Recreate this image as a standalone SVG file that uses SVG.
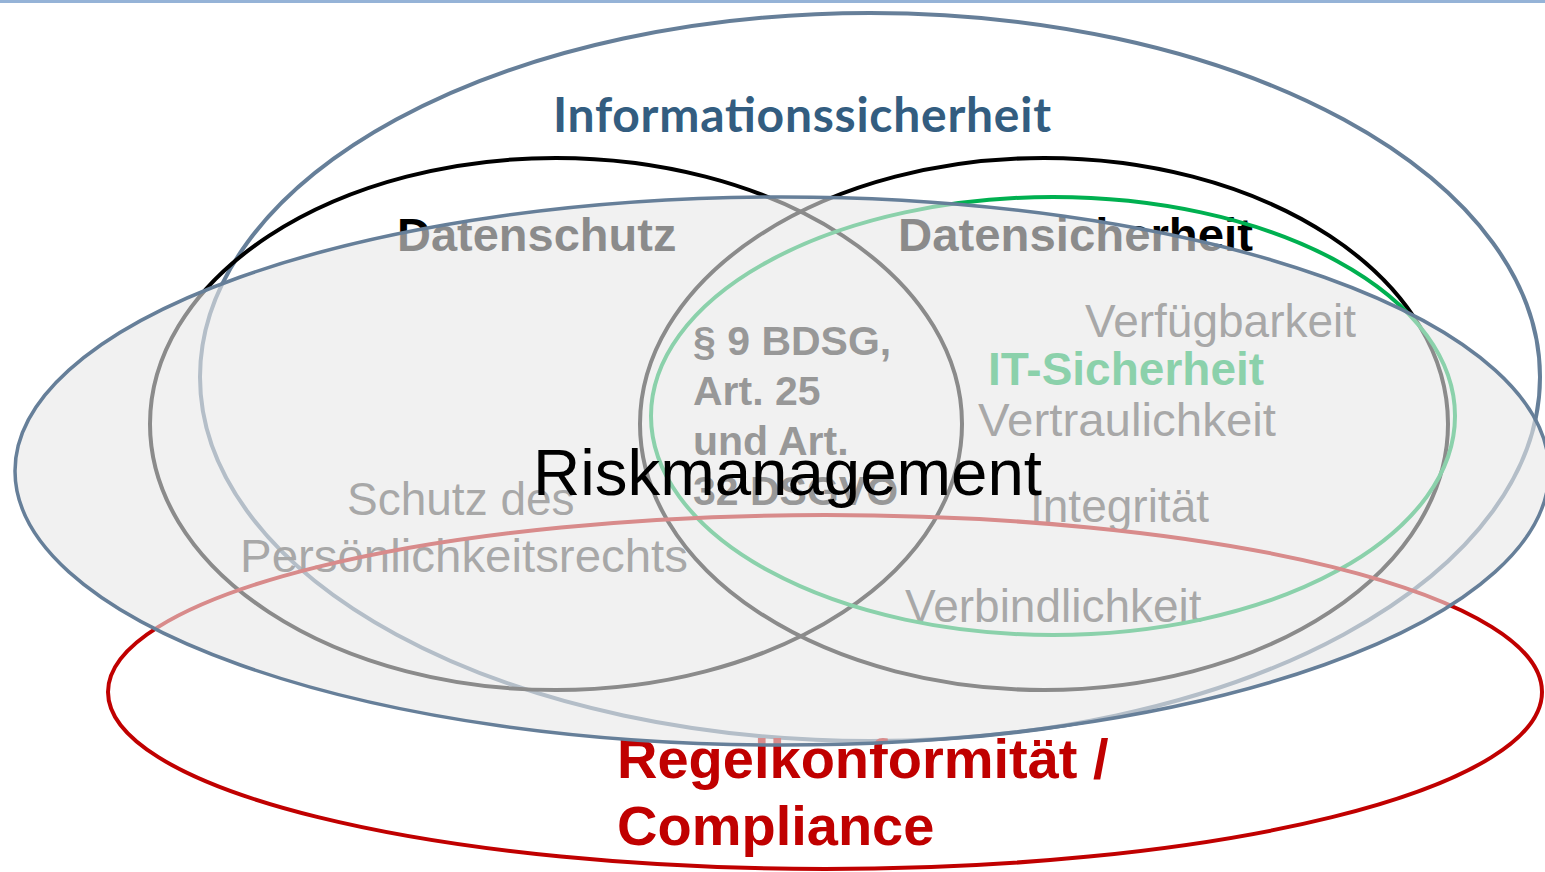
<svg xmlns="http://www.w3.org/2000/svg" width="1545" height="872" viewBox="0 0 1545 872">
<style>
.ring{fill:none;stroke-width:4}
.blk{stroke:#000}
.grey{font-family:"Liberation Sans",Arial,sans-serif;font-size:46px;fill:#4a4a4a}
.bold{font-family:"Liberation Sans",Arial,sans-serif;font-weight:bold}
</style>
<rect x="0" y="0" width="1545" height="872" fill="#fff"/>
<rect x="0" y="0" width="1545" height="3" fill="#95b3d7"/>
<g id="informationssicherheit">
<ellipse class="ring" cx="870" cy="377" rx="670" ry="364" stroke="#667f99"/>
<text x="553" y="132" font-family="Lato,'Open Sans',sans-serif" font-weight="bold" font-size="48" fill="#335d80" textLength="498" lengthAdjust="spacing">Informationssicherheit</text>
</g>
<g id="datenschutz">
<ellipse class="ring blk" cx="556" cy="424" rx="406" ry="266"/>
<text class="bold" x="397" y="251" font-size="47" fill="#000">Datenschutz</text>
</g>
<g id="datensicherheit">
<ellipse class="ring blk" cx="1044" cy="424" rx="404" ry="266"/>
<text class="bold" x="898" y="251" font-size="47" fill="#000" textLength="355" lengthAdjust="spacingAndGlyphs">Datensicherheit</text>
<text class="grey" x="1085" y="337">Verfügbarkeit</text>
<text class="grey" x="978" y="436" textLength="298" lengthAdjust="spacingAndGlyphs">Vertraulichkeit</text>
<text class="grey" x="1030" y="522">Integrität</text>
<text class="grey" x="905" y="622">Verbindlichkeit</text>
</g>
<g id="it-sicherheit">
<ellipse class="ring" cx="1053" cy="416" rx="402" ry="219" stroke="#00b050"/>
<text class="bold" x="988" y="385" font-size="46" fill="#00b050">IT-Sicherheit</text>
</g>
<g id="persoenlichkeit">
<text class="grey" x="347" y="515">Schutz des</text>
<text class="grey" x="240" y="572" textLength="448" lengthAdjust="spacingAndGlyphs">Persönlichkeitsrechts</text>
</g>
<g id="bdsg" class="bold" font-size="41" fill="#222">
<text x="693" y="355">§ 9 BDSG,</text>
<text x="693" y="405">Art. 25</text>
<text x="693" y="455">und Art.</text>
<text x="693" y="505">32 DSGVO</text>
</g>
<g id="compliance">
<ellipse class="ring" cx="825" cy="692" rx="717" ry="177" stroke="#c00000"/>
<text class="bold" x="617" y="778" font-size="56" fill="#c00000">Regelkonformität /</text>
<text class="bold" x="617" y="845" font-size="56" fill="#c00000">Compliance</text>
</g>
<g id="riskmanagement">
<ellipse cx="782" cy="471" rx="767" ry="274" fill="#e8e8e8" fill-opacity="0.6" stroke="#667f99" stroke-width="3.5"/>
<text x="533" y="495" font-family="'Liberation Sans',Arial,sans-serif" font-size="64" fill="#000" textLength="509" lengthAdjust="spacingAndGlyphs">Riskmanagement</text>
</g>
</svg>
